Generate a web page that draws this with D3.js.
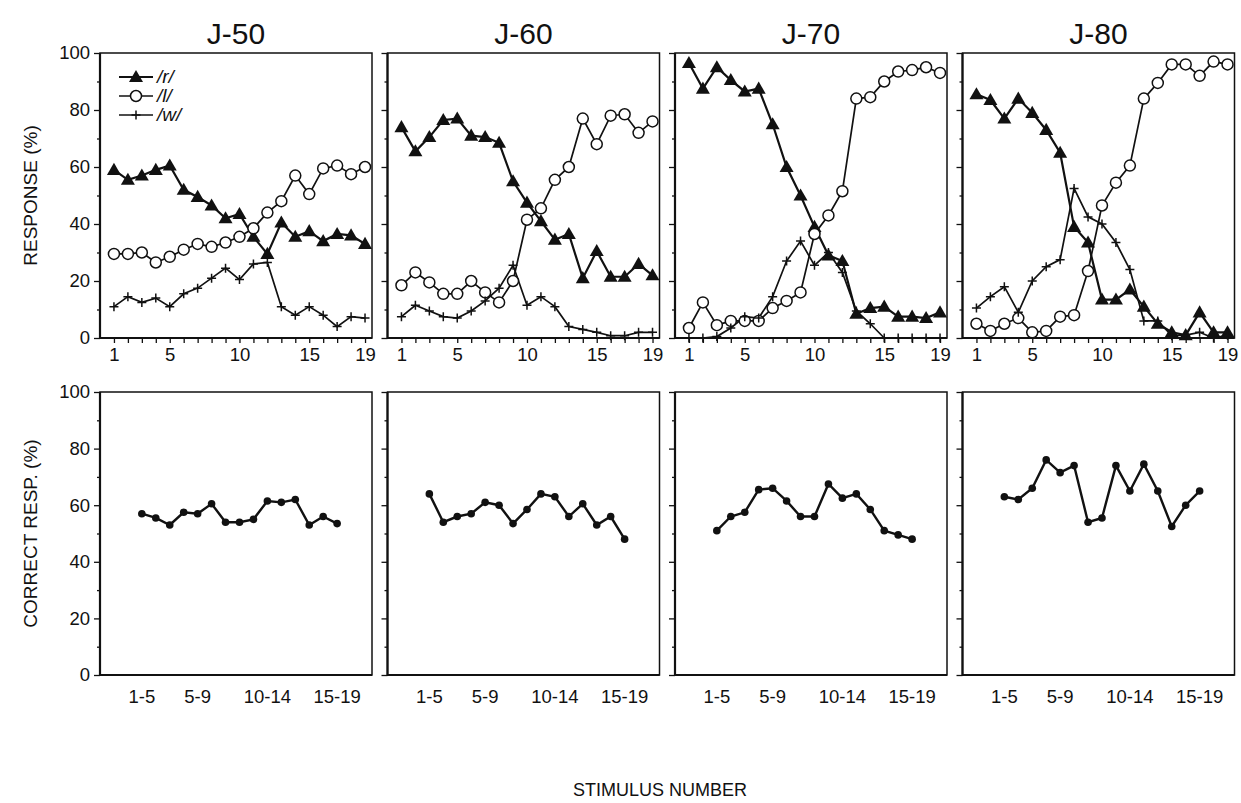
<!DOCTYPE html>
<html>
<head>
<meta charset="utf-8">
<script src="https://cdn.jsdelivr.net/npm/d3@7"></script>
<style>
  body { margin: 0; background: #fff; }
  text { font-family: "Liberation Sans", Arial, Helvetica, sans-serif; fill: #111; }
</style>
</head>
<body>
<svg id="chart" width="1241" height="803"></svg>
<script>
// Identification responses (%) for stimuli 1..19, one set per condition
const conditions = ["J-50", "J-60", "J-70", "J-80"];
const stimuli = d3.range(1, 20);

const r50 = [59, 55.5, 57, 59, 60.5, 52, 49.5, 46.5, 42, 43.5, 35.5, 29.5, 40.5, 35.5, 37.5, 34, 36.5, 36, 33];
const l50 = [29.5, 29.5, 30, 26.5, 28.5, 31, 33, 32, 33.5, 35.5, 38.5, 44, 48, 57, 50.5, 59.5, 60.5, 57.5, 60];
const w50 = [11, 14.5, 12.5, 14, 11, 15.5, 17.5, 21, 24.5, 20.5, 26, 26.5, 11, 8, 11, 8, 4, 7.5, 7];

const r60 = [74, 65.5, 70.5, 76.5, 77, 71, 70.5, 68.5, 55, 47.5, 41, 34.5, 36.5, 21, 30.5, 21.5, 21.5, 26, 22];
const l60 = [18.5, 23, 19.5, 15.5, 15.5, 20, 16, 12.5, 20, 41.5, 45.5, 55.5, 60, 77, 68, 78, 78.5, 72, 76];
const w60 = [7.5, 11.5, 9.5, 7.5, 7, 9.5, 13, 17.5, 25.5, 11.5, 14.5, 11, 4, 3, 2, 0.8, 0.8, 2, 2];

const r70 = [96.5, 87.5, 95, 90.5, 86.5, 87.5, 75, 60, 50, 39, 29, 27, 8.5, 10.5, 11, 7.5, 7.5, 7, 9];
const l70 = [3.5, 12.5, 4.5, 6, 6, 6, 10.5, 13, 16, 36.5, 43, 51.5, 84, 84.5, 90, 93.5, 94, 95, 93];
const w70 = [0, 0, 0.5, 3.5, 7.5, 7, 14.5, 27, 34, 25.5, 30, 23, 9.5, 5, 0, 0, 0, 0, 0];

const r80 = [85.5, 83.5, 77, 84, 79, 73, 65, 39, 33.5, 13.5, 13.5, 17, 11, 5, 2, 1, 9, 2, 2];
const l80 = [5, 2.5, 5, 7, 2, 2.5, 7.5, 8, 23.5, 46.5, 54.5, 60.5, 84, 89.5, 96, 96, 92, 97, 96];
const w80 = [10.5, 14.5, 18, 9, 20, 25, 27.5, 52.5, 42.5, 40, 33.5, 24, 6, 6, 0.8, 1, 2, 0, 1];

// Discrimination: percent correct for the 15 pairs (1-5, 2-6, ..., 15-19)
const pairStarts = d3.range(1, 16);
const correct50 = [57, 55.5, 53, 57.5, 57, 60.5, 54, 54, 55, 61.5, 61, 62, 53, 56, 53.5];
const correct60 = [64, 54, 56, 57, 61, 60, 53.5, 58.5, 64, 63, 56, 60.5, 53, 56, 48];
const correct70 = [51, 56, 57.5, 65.5, 66, 61.5, 56, 56, 67.5, 62.5, 64, 58.5, 51, 49.5, 48];
const correct80 = [63, 62, 66, 76, 71.5, 74, 54, 55.5, 74, 65, 74.5, 65, 52.5, 60, 65];

// Tick labels
const stimulusTickLabels = [1, 5, 10, 15, 19];
const pairTickLabels = ["1-5", "5-9", "10-14", "15-19"];

const seriesNames = ["/r/", "/l/", "/w/"];
const identification = [[r50, l50, w50], [r60, l60, w60], [r70, l70, w70], [r80, l80, w80]];
const discrimination = [correct50, correct60, correct70, correct80];

// ---- layout ----
const svg = d3.select("#chart");
const panelWidth = 272, panelStep = 287.5, firstLeft = 100;
const topRow = { top: 53, bottom: 338 };
const botRow = { top: 392, bottom: 675 };
const tickFont = 18.5;

const yTop = d3.scaleLinear().domain([0, 100]).range([topRow.bottom, topRow.top]);
const yBot = d3.scaleLinear().domain([0, 100]).range([botRow.bottom, botRow.top]);

const symTri = d3.symbol().type(d3.symbolTriangle).size(85)();
const plusPath = "M-4.5,0H4.5M0,-4.5V4.5";

function drawMarkers(g, pts, kind) {
  if (kind === 0) {
    g.selectAll(null).data(pts).join("path")
      .attr("d", symTri)
      .attr("transform", d => `translate(${d[0]},${d[1] + 1})`)
      .attr("fill", "#111");
  } else if (kind === 1) {
    g.selectAll(null).data(pts).join("circle")
      .attr("cx", d => d[0]).attr("cy", d => d[1]).attr("r", 5.5)
      .attr("fill", "#fff").attr("stroke", "#111").attr("stroke-width", 1.5);
  } else {
    g.selectAll(null).data(pts).join("path")
      .attr("d", plusPath)
      .attr("transform", d => `translate(${d[0]},${d[1]})`)
      .attr("stroke", "#111").attr("stroke-width", 1.5).attr("fill", "none");
  }
}

function yAxisTicks(g, y, labelled) {
  const ax = d3.axisLeft(y).tickValues(d3.range(0, 101, 10))
    .tickSize(6).tickPadding(4)
    .tickFormat(d => (labelled && d % 20 === 0) ? d : "");
  g.call(ax);
  g.select(".domain").remove();
  g.selectAll(".tick line")
    .attr("x2", d => d % 20 === 0 ? -6 : -3)
    .attr("stroke", "#111").attr("stroke-width", 1.3);
  g.selectAll(".tick text").attr("font-size", tickFont).attr("fill", "#111")
    .attr("font-family", "Liberation Sans, Arial, sans-serif");
}

conditions.forEach((cond, i) => {
  const left = firstLeft + i * panelStep;
  const x = d3.scaleLinear().domain([0, 19.5]).range([left, left + panelWidth]);

  // ---------- identification panel ----------
  const gT = svg.append("g");
  gT.append("text")
    .attr("x", left + panelWidth / 2).attr("y", 44)
    .attr("text-anchor", "middle").attr("font-size", 30)
    .text(cond);

  gT.append("rect")
    .attr("x", left).attr("y", topRow.top)
    .attr("width", panelWidth).attr("height", topRow.bottom - topRow.top)
    .attr("fill", "none").attr("stroke", "#111").attr("stroke-width", 1.5);
  gT.append("path")
    .attr("d", `M${left},${topRow.top}V${topRow.bottom}H${left + panelWidth}`)
    .attr("fill", "none").attr("stroke", "#111").attr("stroke-width", 2.2);

  yAxisTicks(gT.append("g").attr("transform", `translate(${left},0)`), yTop, i === 0);

  const xAx = gT.append("g").attr("transform", `translate(0,${topRow.bottom})`)
    .call(d3.axisBottom(x).tickValues(stimuli).tickSize(5).tickPadding(5)
      .tickFormat(d => stimulusTickLabels.includes(d) ? d : ""));
  xAx.select(".domain").remove();
  xAx.selectAll(".tick line").attr("stroke", "#111").attr("stroke-width", 1.3);
  xAx.selectAll(".tick text").attr("font-size", tickFont).attr("fill", "#111")
    .attr("font-family", "Liberation Sans, Arial, sans-serif");

  identification[i].forEach((vals, s) => {
    const pts = vals.map((v, k) => [x(stimuli[k]), yTop(v)]);
    gT.append("path")
      .attr("d", d3.line()(pts))
      .attr("fill", "none").attr("stroke", "#111")
      .attr("stroke-width", s === 0 ? 2.2 : 1.7);
  });
  // markers drawn after all lines so open circles stay on top
  identification[i].forEach((vals, s) => {
    const pts = vals.map((v, k) => [x(stimuli[k]), yTop(v)]);
    drawMarkers(gT.append("g"), pts, s);
  });

  // ---------- discrimination panel ----------
  const gB = svg.append("g");
  gB.append("rect")
    .attr("x", left).attr("y", botRow.top)
    .attr("width", panelWidth).attr("height", botRow.bottom - botRow.top)
    .attr("fill", "none").attr("stroke", "#111").attr("stroke-width", 1.5);
  gB.append("path")
    .attr("d", `M${left},${botRow.top}V${botRow.bottom}H${left + panelWidth}`)
    .attr("fill", "none").attr("stroke", "#111").attr("stroke-width", 2.2);

  yAxisTicks(gB.append("g").attr("transform", `translate(${left},0)`), yBot, i === 0);

  // pair k spans stimuli k..k+4 and sits at its middle stimulus
  const pairCenter = k => x(k + 2);
  const labelPairs = pairTickLabels.map(lbl => +lbl.split("-")[0]);
  gB.selectAll(null).data(pairTickLabels).join("text")
    .attr("x", (d, j) => pairCenter(labelPairs[j]))
    .attr("y", botRow.bottom + 28)
    .attr("text-anchor", "middle").attr("font-size", tickFont)
    .text(d => d);

  const cpts = discrimination[i].map((v, k) => [pairCenter(pairStarts[k]), yBot(v)]);
  gB.append("path")
    .attr("d", d3.line()(cpts))
    .attr("fill", "none").attr("stroke", "#111").attr("stroke-width", 2.4);
  gB.selectAll(null).data(cpts).join("circle")
    .attr("cx", d => d[0]).attr("cy", d => d[1]).attr("r", 3.8).attr("fill", "#111");
});

// ---------- legend ----------
const legend = svg.append("g");
const legendRows = [77, 96, 115];
seriesNames.forEach((name, s) => {
  const yy = legendRows[s];
  legend.append("line")
    .attr("x1", 119).attr("x2", 153).attr("y1", yy).attr("y2", yy)
    .attr("stroke", "#111").attr("stroke-width", s === 0 ? 2.2 : 1.7);
  drawMarkers(legend.append("g"), [[136, yy]], s);
  legend.append("text")
    .attr("x", 157).attr("y", yy + 6).attr("font-size", 19).attr("font-style", "italic")
    .text(name);
});

// ---------- axis titles ----------
svg.append("text")
  .attr("transform", `translate(37,${(topRow.top + topRow.bottom) / 2}) rotate(-90)`)
  .attr("text-anchor", "middle").attr("font-size", 19)
  .text("RESPONSE (%)");
svg.append("text")
  .attr("transform", `translate(37,${(botRow.top + botRow.bottom) / 2}) rotate(-90)`)
  .attr("text-anchor", "middle").attr("font-size", 19)
  .text("CORRECT RESP. (%)");
svg.append("text")
  .attr("x", 660).attr("y", 796)
  .attr("text-anchor", "middle").attr("font-size", 18)
  .text("STIMULUS NUMBER");
</script>
</body>
</html>
